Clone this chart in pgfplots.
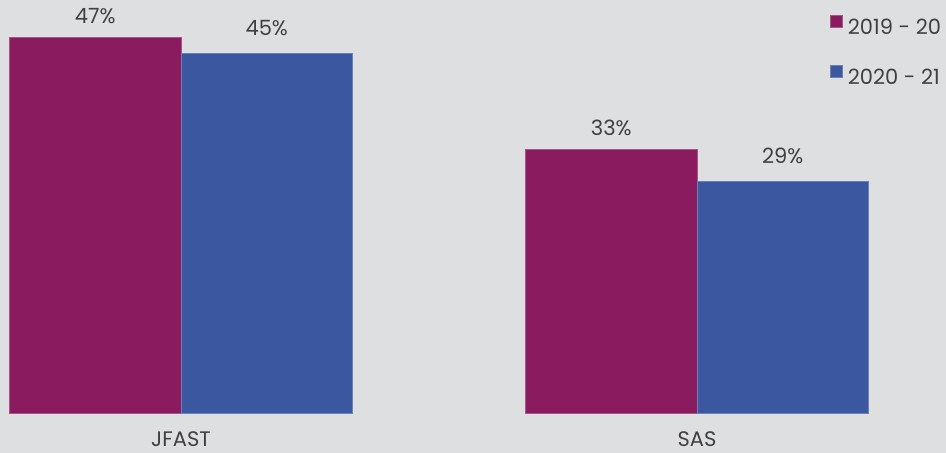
\documentclass[border=0pt]{standalone}
\usepackage{pgfplots}
\pgfplotsset{compat=1.18}
\usepackage{fontspec}
\setmainfont{Poppins}
\definecolor{bg}{RGB}{222,223,224}
\definecolor{barA}{RGB}{138,27,94}
\definecolor{barB}{RGB}{59,87,160}
\definecolor{txt}{RGB}{64,64,64}
\begin{document}
\begin{tikzpicture}[x=1bp,y=1bp]
\fill[bg] (0,0) rectangle (946,453);
\path[use as bounding box] (0,0) rectangle (946,453);
\begin{axis}[
  at={(0bp,39.7bp)}, anchor=south west,
  scale only axis, width=946bp, height=413.3bp,
  xmin=-0.350775, xmax=1.482558,
  ymin=0, ymax=51.66,
  axis line style={draw=none},
  major tick length=0pt,
  ymajorticks=false,
  xtick={0,1}, xticklabels={JFAST,SAS},
  xticklabel style={font=\fontsize{21bp}{25bp}\selectfont, text=txt, anchor=base, yshift=-33bp, inner sep=0pt},
  ybar, bar width=171.5bp,
  clip=false,
  nodes near coords={\pgfmathprintnumber[assume math mode=true]{\pgfplotspointmeta}\%},
  every node near coord/.append style={font=\fontsize{21bp}{25bp}\selectfont, text=txt, anchor=south, inner sep=0pt, text depth=0pt},
  legend style={at={(rel axis cs:0.8774,0.9637)}, anchor=north west, draw=none, fill=none, inner sep=0pt,
    font=\fontsize{21bp}{25bp}\selectfont, text=txt, row sep=30bp,
    nodes={inner sep=0pt, text height=15bp, text depth=0pt}},
  legend cell align=left,
  legend image code/.code={\fill[#1] (0bp,0bp) rectangle (12bp,12bp); \path (17bp,0bp);},
]
\addplot[fill=barA, draw=barA!75!white, line width=0.6bp, bar shift=-85.75bp,
  every node near coord/.append style={yshift=13bp}] coordinates {(0,47) (1,33)};
\addlegendentry{2019 - 20}
\addplot[fill=barB, draw=barB!75!white, line width=0.6bp, bar shift=85.75bp,
  every node near coord/.append style={yshift=17bp}] coordinates {(0,45) (1,29)};
\addlegendentry{2020 - 21}
\end{axis}
\end{tikzpicture}
\end{document}
